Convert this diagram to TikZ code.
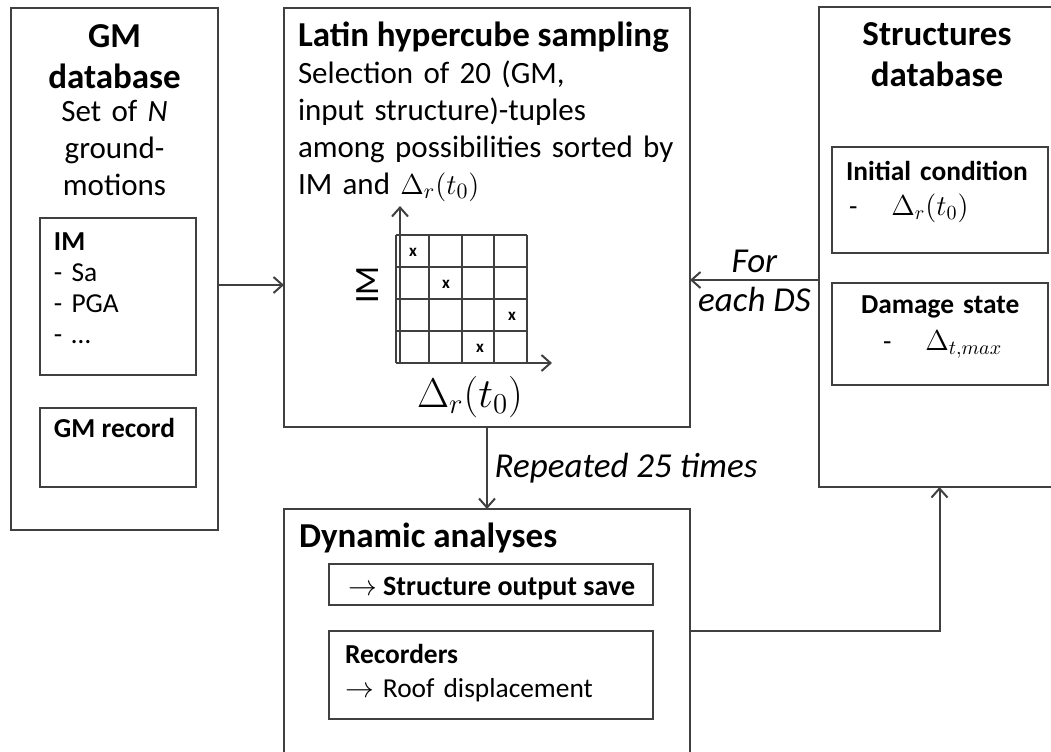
\documentclass[tikz,border=0pt]{standalone}
\usepackage{fontspec}
\setmainfont{Carlito}
\usetikzlibrary{arrows.meta}
\tikzset{
  box/.style={draw=black!75,line width=1pt,inner sep=0pt,outer sep=0pt},
  ttl/.style={font=\fontsize{17.5}{20.5}\selectfont\bfseries,inner sep=0pt},
  txt/.style={font=\fontsize{15.5}{18.5}\selectfont,inner sep=0pt},
  sml/.style={font=\fontsize{13.7}{15.5}\selectfont,inner sep=0pt},
  lbl/.style={font=\fontsize{17.5}{20}\selectfont\itshape},
  cross/.style={font=\fontsize{8.5}{9}\selectfont\bfseries,inner sep=0pt}
}
\begin{document}
\begin{tikzpicture}[x=0.5pt,y=-0.5pt,line width=1pt,draw=black!75,>={Straight Barb[length=4.5pt,width=8pt]}]
\clip (0,0) rectangle (1051,751);
% boxes
\node[box,minimum width=103.5pt,minimum height=261pt] (gmdb) at (114.5,269) {};
\node[box,minimum width=78pt,minimum height=78.5pt] (im) at (118,296.5) {};
\node[box,minimum width=78pt,minimum height=39.5pt] (gmrec) at (118,447.5) {};
\node[box,minimum width=203pt,minimum height=209.5pt] (lhs) at (487,217.5) {};
\node[box,minimum width=120.5pt,minimum height=240pt] (strdb) at (939.5,247) {};
\node[box,minimum width=108pt,minimum height=53pt] (initc) at (940,200) {};
\node[box,minimum width=108pt,minimum height=51pt] (dmg) at (940,334) {};
\node[box,minimum width=203pt,minimum height=125.5pt] (dyn) at (487,634.5) {};
\node[box,minimum width=162pt,minimum height=20.5pt] (save) at (491,584.5) {};
\node[box,minimum width=162pt,minimum height=44pt] (rec) at (491,675) {};
% texts
\node[ttl,anchor=base,text width=100pt,align=center] (gmttl) at (114.5,47) {GM\\database};
\node[txt,anchor=base,text width=100pt,align=center] (gmtxt) at (114.5,121) {Set of \textit{N}\\ground-\\motions};
\node[sml,anchor=base west,text width=70pt,align=left] (imtxt) at (53,250) {\textbf{IM}\\- Sa\\- PGA\\- \dots};
\node[sml,anchor=base west] (gmrectxt) at (53,437) {\textbf{GM record}};
\node[ttl,anchor=base west] (lhsttl) at (297,46) {Latin hypercube sampling};
\node[txt,anchor=base west,text width=195pt,align=left] (lhstxt) at (297,83) {Selection of 20 (GM,\\input structure)-tuples\\among possibilities sorted by\\IM and $\Delta_r(t_0)$};
\node[ttl,anchor=base,text width=115pt,align=center] (strttl) at (937,45) {Structures\\database};
\node[sml,anchor=base west,text width=105pt,align=left] (initctxt) at (845,180) {\textbf{Initial condition}\\[2pt]\hspace*{1.5pt}-\hspace{17pt}$\Delta_r(t_0)$};
\node[sml,anchor=base west,text width=105pt,align=left] (dmgtxt) at (860,313) {\textbf{Damage state}\\[3pt]\hspace*{11pt}-\hspace{17pt}$\Delta_{t,max}$};
\node[ttl,anchor=base west] (dynttl) at (298,547) {Dynamic analyses};
\node[sml,anchor=base west,font=\fontsize{14}{16}\selectfont\bfseries] (savetxt) at (347,595) {$\rightarrow$ Structure output save};
\node[sml,anchor=base west,text width=150pt,align=left] (rectxt) at (344,663) {\textbf{Recorders}\\[1.5pt]$\rightarrow$ Roof displacement};
% sampling plot
\foreach \i in {0,...,4}{
  \draw (396+\i*32.75,235) -- (396+\i*32.75,363);
  \draw (396,235+\i*32) -- (527,235+\i*32);
}
\draw[->] (400,363) -- (400,206);
\draw[->] (396,363) -- (552,363);
\foreach \cx/\cy in {413/252,446/284,512/316,480/348}{\node[cross] at (\cx,\cy) {x};}
\node[font=\fontsize{17}{20}\selectfont,rotate=90] (imlbl) at (368,285) {IM};
\node[font=\fontsize{20}{22}\selectfont] (dlbl) at (470,397) {$\Delta_r(t_0)$};
% connectors
\coordinate (ds) at (0,280);
\draw[->] (gmdb.east |- imlbl) -- (lhs.west |- imlbl);
\draw[->] (strdb.west |- ds) -- (lhs.east |- ds) node[lbl,midway,above]{For} node[lbl,midway,below]{each DS};
\draw[->] (lhs.south) -- (dyn.north) node[lbl,midway,right]{Repeated 25 times};
\draw[->] (rec.north -| dyn.east) -| (strdb.south);
\end{tikzpicture}
\end{document}
